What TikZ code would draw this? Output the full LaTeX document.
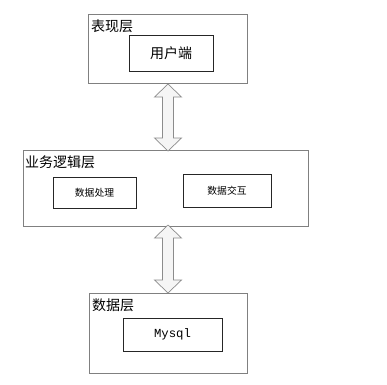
\documentclass[tikz,border=0pt]{standalone}
\usepackage{fontspec}
\newfontfamily\cjk{Noto Sans CJK SC}
\setmonofont{Liberation Mono}
\begin{document}
\begin{tikzpicture}[x=1pt,y=-1pt,
  outerbox/.style={draw=black!50, line width=0.9pt, fill=white, inner sep=0pt},
  innerbox/.style={draw=black!85, line width=0.9pt, fill=white, font=\cjk\fontsize{9.8}{11}\selectfont},
  title/.style={anchor=west, inner sep=0pt, font=\cjk\fontsize{14}{16}\selectfont},
  blockarrow/.style={draw=black!45, line width=0.7pt, fill=black!4, line join=miter}]
\useasboundingbox (0,0) rectangle (387,384);
% outer boxes
\node[outerbox, minimum width=159pt, minimum height=69pt] (L1) at (167.5,48.5) {};
\node[title] (t1) at (91,26) {表现层};
\node[innerbox, minimum width=84pt, minimum height=36pt, font=\cjk\fontsize{14}{16}\selectfont] (u) at (171,53) {用户端};

\node[outerbox, minimum width=285pt, minimum height=76pt] (L2) at (165.5,188) {};
\node[title] (t2) at (25,162) {业务逻辑层};
\node[innerbox, minimum width=83pt, minimum height=31pt] (d1) at (94.5,192.5) {数据处理};
\node[innerbox, minimum width=88pt, minimum height=33pt] (d2) at (227,190.5) {数据交互};

\node[outerbox, minimum width=158pt, minimum height=80pt] (L3) at (168,333) {};
\node[title] (t3) at (92,305) {数据层};
\node[innerbox, minimum width=99pt, minimum height=33pt, font=\ttfamily\fontsize{12.3}{14}\selectfont] (m) at (172.5,334.5) {Mysql};

% double block arrows
\foreach \cx/\ya/\yb in {168/84/151, 168/225/293}{
  \draw[blockarrow] (\cx,\ya) -- (\cx+13.5,\ya+13) -- (\cx+5.5,\ya+13) -- (\cx+5.5,\yb-13)
    -- (\cx+13.5,\yb-13) -- (\cx,\yb) -- (\cx-13.5,\yb-13) -- (\cx-5.5,\yb-13)
    -- (\cx-5.5,\ya+13) -- (\cx-13.5,\ya+13) -- cycle;
}
\end{tikzpicture}
\end{document}
